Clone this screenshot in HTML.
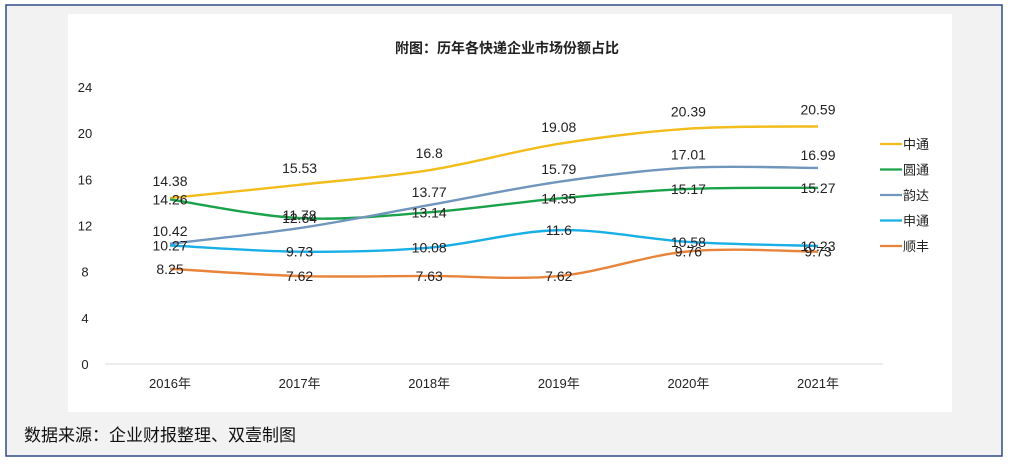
<!DOCTYPE html>
<html><head><meta charset="utf-8"><style>
body{margin:0;width:1013px;height:466px;overflow:hidden;background:#fff;font-family:"Liberation Sans","Noto Sans CJK SC",sans-serif;}
</style></head><body>
<svg width="1013" height="466">
<rect x="6" y="5" width="996" height="451" fill="#f2f2f2" stroke="#2f4a86" stroke-width="1.5"/>
<rect x="68" y="14" width="884" height="398" fill="#ffffff"/>
<text x="507" y="53" text-anchor="middle" font-size="14" font-weight="bold" fill="#222">附图：历年各快递企业市场份额占比</text>
<g id="axes"></g><g id="series"></g><g id="legend"></g>
<text x="24" y="441" font-size="17" fill="#111">数据来源：企业财报整理、双壹制图</text>
</svg>
<script>
const categories=["2016年","2017年","2018年","2019年","2020年","2021年"];
const yTicks=[0,4,8,12,16,20,24];
const names=["中通","圆通","韵达","申通","顺丰"];
const colors=["#f2bc1a","#1aa24a","#7096bd","#18aee6","#e8843a"];
const zto=[14.38,15.53,16.8,19.08,20.39,20.59];
const yto=[14.26,12.64,13.14,14.35,15.17,15.27];
const yunda=[10.42,11.78,13.77,15.79,17.01,16.99];
const sto=[10.27,9.73,10.08,11.6,10.58,10.23];
const sf=[8.25,7.62,7.63,7.62,9.76,9.73];
const seriesData=[zto,yto,yunda,sto,sf];
const labelDy=[-17,0,-13,0,0];
const NS="http://www.w3.org/2000/svg";
const x=i=>170+i*129.6;
const y=v=>364-v*11.54;
function mk(t,a,p){const e=document.createElementNS(NS,t);for(const k in a)e.setAttribute(k,a[k]);p.appendChild(e);return e;}
const ax=document.getElementById('axes');
yTicks.forEach(t=>{const e=mk('text',{x:85,y:y(t)+5,'text-anchor':'middle','font-size':13,fill:'#222'},ax);e.textContent=t;

});
const bl=mk('line',{x1:105,x2:883,y1:y(0),y2:y(0),stroke:'#d9d9d9'},ax);


categories.forEach((c,i)=>{const e=mk('text',{x:x(i),y:388,'text-anchor':'middle','font-size':13,fill:'#222'},ax);e.textContent=c;

});
const sg=document.getElementById('series');
function path(pts){let d=`M${pts[0][0]},${pts[0][1]}`;for(let i=0;i<pts.length-1;i++){const p0=pts[Math.max(0,i-1)],p1=pts[i],p2=pts[i+1],p3=pts[Math.min(pts.length-1,i+2)];
const c1=[p1[0]+(p2[0]-p0[0])/6,p1[1]+(p2[1]-p0[1])/6],c2=[p2[0]-(p3[0]-p1[0])/6,p2[1]-(p3[1]-p1[1])/6];d+=` C${c1[0]},${c1[1]} ${c2[0]},${c2[1]} ${p2[0]},${p2[1]}`;}return d;}
seriesData.forEach((s,k)=>{const pts=s.map((v,i)=>[x(i),y(v)]);
const p=mk('path',{d:path(pts),fill:'none',stroke:colors[k],'stroke-width':2.4},sg);

});
seriesData.forEach((s,k)=>{s.forEach((v,i)=>{const t=mk('text',{x:x(i),y:y(v)+labelDy[k]+5,'text-anchor':'middle','font-size':14,fill:'#222'},sg);t.textContent=v;

});});
const lg=document.getElementById('legend');
names.forEach((n,k)=>{const yy=144+k*25.5;
const l=mk('line',{x1:880,x2:902,y1:yy,y2:yy,stroke:colors[k],'stroke-width':2.2},lg);


const t=mk('text',{x:903,y:yy+5,'font-size':13,fill:'#222'},lg);t.textContent=n;

});
</script>
</body></html>
